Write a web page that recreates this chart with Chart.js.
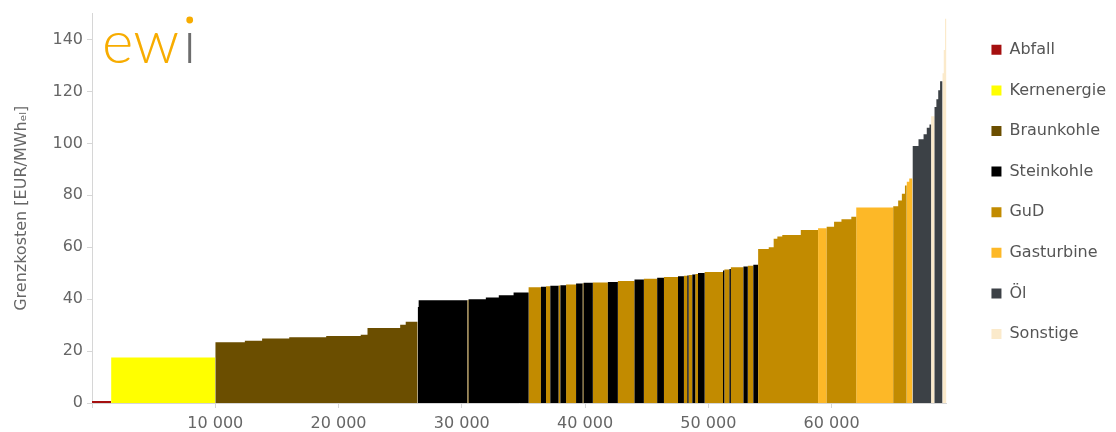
<!DOCTYPE html>
<html>
<head>
<meta charset="utf-8">
<script src="https://cdn.jsdelivr.net/npm/chart.js@4.4.1/dist/chart.umd.min.js"></script>
<style>
  html, body { margin: 0; background: #fff; }
  #wrap { width: 1116px; height: 432px; }
</style>
</head>
<body>
<div id="wrap"><canvas id="merit"></canvas></div>
<script>
// Kraftwerkstypen (Legende) und Farben
const techNames = ['Abfall', 'Kernenergie', 'Braunkohle', 'Steinkohle', 'GuD', 'Gasturbine', 'Öl', 'Sonstige'];
const techColors = ['#a50f0f', '#ffff00', '#6b4e00', '#000000', '#c28b00', '#fdb827', '#3c4146', '#fbeacb'];

// Merit-Order-Bloecke: Technologie, kumulierte Leistung am Blockende [MW], Grenzkosten [EUR/MWh]
const blockTech = [
  'Abfall', 'Kernenergie',
  'Braunkohle', 'Braunkohle', 'Braunkohle', 'Braunkohle', 'Braunkohle', 'Braunkohle', 'Braunkohle', 'Braunkohle', 'Braunkohle',
  'Steinkohle', 'Steinkohle', 'GuD', 'Steinkohle', 'Steinkohle', 'Steinkohle', 'Steinkohle',
  'GuD', 'Steinkohle', 'GuD', 'Steinkohle', 'GuD', 'Steinkohle', 'GuD', 'Steinkohle', 'GuD', 'Steinkohle',
  'GuD', 'Steinkohle', 'GuD', 'Steinkohle', 'GuD', 'Steinkohle', 'GuD', 'Steinkohle', 'GuD', 'Steinkohle',
  'GuD', 'Steinkohle', 'GuD', 'Steinkohle', 'GuD', 'Steinkohle', 'GuD', 'Steinkohle', 'GuD', 'Steinkohle',
  'GuD', 'Steinkohle',
  'GuD', 'GuD', 'GuD', 'GuD', 'GuD', 'GuD', 'Gasturbine', 'GuD', 'GuD', 'GuD', 'GuD', 'Gasturbine',
  'GuD', 'GuD', 'GuD', 'GuD', 'Gasturbine', 'Gasturbine',
  'Öl', 'Öl', 'Öl', 'Öl', 'Öl', 'Sonstige', 'Öl', 'Öl', 'Öl', 'Öl',
  'Sonstige', 'Sonstige', 'Sonstige'
];
const blockEnd = [
  1550, 10000,
  12400, 13800, 16000, 19000, 21800, 22350, 25000, 25450, 26420,
  26500, 30450, 30550, 31950, 33000, 34200, 35420,
  36420, 36830, 37180, 37850, 38000, 38460, 39270, 39800, 39880, 40630,
  41850, 42660, 44010, 44770, 45850, 46400, 47540, 48020, 48290, 48400,
  48700, 48940, 49160, 49700, 51190, 51300, 51710, 51830, 52850, 53200,
  53650, 54040,
  54900, 55300, 55600, 56000, 57500, 58900, 59600, 60200, 60800, 61600, 62000, 65000,
  65400, 65700, 65950, 66100, 66300, 66560,
  67050, 67460, 67720, 67940, 68070, 68350, 68500, 68650, 68800, 69000,
  69100, 69200, 69320
];
const blockCost = [
  0.8, 17.5,
  23.4, 24.0, 24.8, 25.3, 25.8, 26.3, 28.9, 30.1, 31.3,
  37.0, 39.6, 39.7, 40.0, 40.6, 41.5, 42.6,
  44.6, 44.8, 45.0, 45.2, 45.3, 45.4, 45.6, 46.0, 46.1, 46.3,
  46.4, 46.6, 47.0, 47.6, 47.9, 48.2, 48.5, 48.8, 49.0, 49.1,
  49.3, 49.5, 49.7, 50.1, 50.5, 51.0, 51.4, 51.6, 52.3, 52.6,
  52.9, 53.3,
  59.3, 60.0, 63.3, 64.1, 64.7, 66.6, 67.3, 67.9, 69.8, 70.8, 71.7, 75.3,
  75.8, 78.0, 80.6, 83.8, 85.2, 86.5,
  99.0, 101.6, 103.5, 106.0, 107.3, 110.5, 114.0, 117.0, 120.5, 123.9,
  127, 136, 148
];

const xTickValues = [0, 10000, 20000, 30000, 40000, 50000, 60000];
const yTickValues = [0, 20, 40, 60, 80, 100, 120, 140];

// je Technologie eine gefuellte Treppenlinie aus den Bloecken
const datasets = techNames.map((name, t) => {
  const pts = [];
  let start = 0;
  blockEnd.forEach((end, i) => {
    if (blockTech[i] === name) {
      const c = blockCost[i];
      pts.push({x: start, y: 0}, {x: start, y: c}, {x: end, y: c}, {x: end, y: 0});
    }
    start = end;
  });
  return {
    label: name,
    data: pts,
    backgroundColor: techColors[t],
    borderColor: techColors[t],
    borderWidth: 0,
    pointRadius: 0,
    fill: 'origin',
    tension: 0
  };
});

const fmt = v => String(v).replace(/\B(?=(\d{3})+$)/g, ' ');

// ewi-Schriftzug oben links
const logo = {
  id: 'logo',
  afterDraw(chart) {
    const ctx = chart.ctx;
    ctx.save();
    ctx.font = '300 60px Lato';
    ctx.textBaseline = 'alphabetic';
    ctx.fillStyle = '#f7ac00';
    ctx.fillText('ew', 102, 63);
    const x = 102 + ctx.measureText('ew').width + 4;
    ctx.fillStyle = '#6d6d6d';
    ctx.fillText('ı', x, 63);
    const iw = ctx.measureText('ı').width;
    ctx.fillStyle = '#f7ac00';
    ctx.beginPath();
    ctx.arc(x + iw / 2, 20, 3.4, 0, Math.PI * 2);
    ctx.fill();
    ctx.restore();
  }
};

const axisGray = '#d6d6d6';
const tickFont = {family: 'DejaVu Sans', size: 16};

new Chart(document.getElementById('merit'), {
  type: 'line',
  data: {datasets: datasets},
  options: {
    responsive: true,
    maintainAspectRatio: false,
    animation: false,
    layout: {padding: {top: 10, right: 0, bottom: 0, left: 0}},
    plugins: {
      legend: {
        position: 'right',
        align: 'start',
        title: {display: true, text: '', padding: 0, font: {size: 6}},
        labels: {
          boxWidth: 10,
          boxHeight: 10,
          padding: 24.6,
          color: '#555',
          font: {family: 'DejaVu Sans', size: 16}
        }
      },
      tooltip: {enabled: false}
    },
    scales: {
      x: {
        type: 'linear',
        min: 0,
        max: 69350,
        grid: {drawOnChartArea: false, tickLength: 5, color: axisGray},
        border: {color: axisGray},
        ticks: {
          color: '#666',
          font: tickFont,
          padding: 6,
          maxRotation: 0,
          callback: v => v === 0 ? '' : fmt(v)
        },
        afterBuildTicks: s => { s.ticks = xTickValues.map(v => ({value: v})); },
        afterFit: s => { s.height = 29; }
      },
      y: {
        min: 0,
        max: 150,
        grid: {drawOnChartArea: false, tickLength: 5, color: axisGray},
        border: {color: axisGray},
        ticks: {color: '#666', font: tickFont, padding: 4},
        title: {
          display: true,
          text: 'Grenzkosten [EUR/MWhₑₗ]',
          color: '#666',
          font: {family: 'DejaVu Sans', size: 16},
          padding: 12
        },
        afterBuildTicks: s => { s.ticks = yTickValues.map(v => ({value: v})); },
        afterFit: s => { s.width = 92; }
      },
      yr: {
        type: 'linear',
        position: 'right',
        grid: {display: false},
        border: {display: false},
        ticks: {display: false},
        afterFit: s => { s.width = 20; }
      }
    }
  },
  plugins: [logo]
});
</script>
</body>
</html>
